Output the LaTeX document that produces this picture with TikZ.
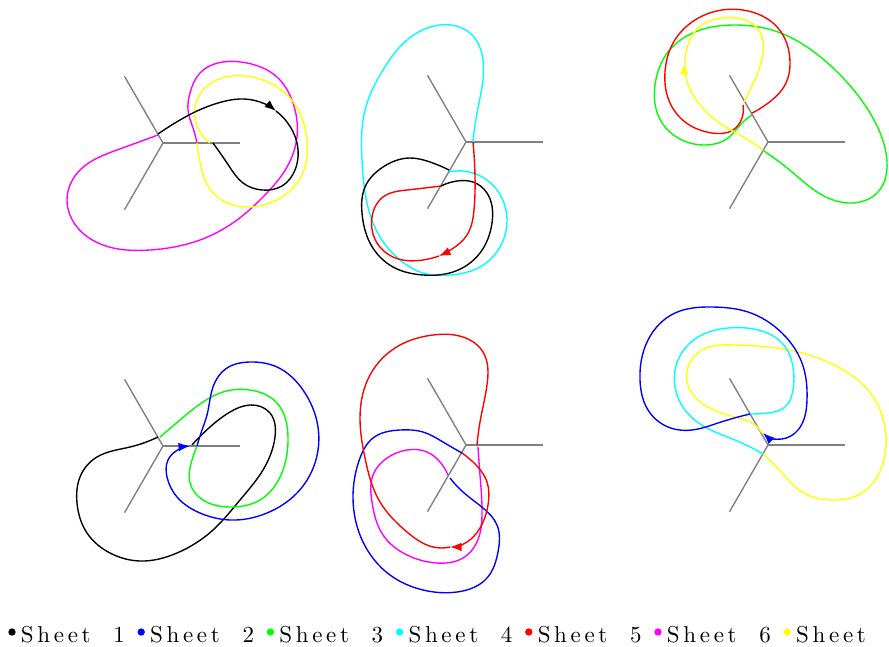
\documentclass[tikz,border=0pt]{standalone}
\usepackage{fontspec}
\usepackage{tikz}
\usetikzlibrary{arrows.meta, hobby}
\newfontfamily\legendfont{lmroman10-regular.otf}[LetterSpace=16]

\definecolor{sheetcyan}{RGB}{0,255,255}
\definecolor{sheetmagenta}{RGB}{255,0,255}
\definecolor{sheetyellow}{RGB}{255,255,0}
\definecolor{sheetgreen}{RGB}{0,255,0}
\definecolor{sheetblue}{RGB}{0,0,255}
\definecolor{sheetred}{RGB}{255,0,0}

\tikzset{
  cut/.style={gray, line width=0.6pt},
  sheet/.style={line width=0.6pt, use Hobby shortcut},
  tip/.style={-{Latex[length=5pt,width=3.8pt]}},
}

\begin{document}
\begin{tikzpicture}[x=0.4348pt, y=-0.4348pt]
    \useasboundingbox (0,0) rectangle (889,646);
    % branch cuts
    \foreach \cx/\cy in {163/143, 466/142, 768/142, 163/446, 466/445, 768/445} {
      \draw[cut] (\cx,\cy) -- ++(77,0);
      \draw[cut] (\cx,\cy) -- ++(-38.5,-66.7);
      \draw[cut] (\cx,\cy) -- ++(-38.5,66.7);
    }
    % top left
    \draw[sheet, sheetmagenta] (158,135) .. (117,150) .. (80,170) .. (67,200) .. (77,227) .. (103,245) .. (150,250) .. (200,240) .. (237,220) .. (263,197) .. (287,167) .. (297,137) .. (293,103) .. (277,77) .. (247,63) .. (223,62) .. (200,73) .. (190,93) .. (188,110) .. (193,128) .. (197,143);
    \draw[sheet, sheetyellow] (197,143) .. (200,162) .. (206,182) .. (220,199) .. (245,207) .. (270,203) .. (293,188) .. (305,167) .. (307,143) .. (302,118) .. (290,98) .. (270,83) .. (245,76) .. (222,78) .. (205,88) .. (196,103) .. (195,118) .. (200,132) .. (210,143);
    \draw[sheet, black, tip] (158,134) .. (180,120) .. (197,111) .. (218,103) .. (240,99) .. (260,102) .. (276,111);
    \draw[sheet, black] (276,111) .. (287,122) .. (297,143) .. (295,170) .. (282,186) .. (262,190) .. (243,183) .. (229,166) .. (213,143);
    % top middle
    \draw[sheet, sheetcyan] (449,172) .. (473,173) .. (497,190) .. (507,220) .. (500,247) .. (480,267) .. (450,275) .. (423,273) .. (400,260) .. (380,237) .. (367,203) .. (362,160) .. (365,110) .. (383,70) .. (407,40) .. (440,25) .. (470,33) .. (483,60) .. (482,87) .. (477,113) .. (473,142);
    \draw[sheet, black] (449,170) .. (430,162) .. (410,158) .. (383,167) .. (365,187) .. (362,213) .. (370,243) .. (393,267) .. (423,275) .. (453,272) .. (480,253) .. (492,223) .. (487,193) .. (473,182) .. (457,181) .. (441,186);
    \draw[sheet, sheetred, tip] (473,142) .. (475,177) .. (474,210) .. (467,235) .. (452,249) .. (439,256);
    \draw[sheet, sheetred] (439,256) .. (423,260) .. (393,257) .. (377,243) .. (372,217) .. (383,197) .. (407,190) .. (441,186);
    % top right
    \draw[sheet, sheetgreen] (752,115) .. (742,123) .. (728,138) .. (705,145) .. (678,138) .. (658,115) .. (655,85) .. (668,52) .. (695,32) .. (735,25) .. (778,32) .. (818,55) .. (852,88) .. (878,128) .. (887,162) .. (878,192) .. (852,203) .. (822,195) .. (792,172) .. (764,151);
    \draw[sheet, sheetred] (743,105) .. (742,118) .. (733,130) .. (712,133) .. (685,122) .. (668,98) .. (665,72) .. (672,45) .. (692,22) .. (722,10) .. (752,12) .. (778,28) .. (790,62) .. (785,85) .. (772,100) .. (752,113);
    \draw[sheet, sheetyellow, tip] (763,150) .. (745,138) .. (718,122) .. (695,98) .. (686,78) .. (685,63);
    \draw[sheet, sheetyellow] (685,63) .. (687,48) .. (698,28) .. (722,18) .. (745,20) .. (760,32) .. (763,52) .. (758,72) .. (750,90) .. (744,102);
    % bottom left
    \draw[sheet, black] (158,437) .. (130,447) .. (97,457) .. (80,477) .. (77,503) .. (87,533) .. (110,553) .. (140,561) .. (177,553) .. (213,530) .. (240,500) .. (263,470) .. (275,437) .. (270,413) .. (250,405) .. (230,412) .. (210,427) .. (192,445);
    \draw[sheet, sheetgreen] (197,446) .. (192,460) .. (190,483) .. (203,500) .. (230,507) .. (260,500) .. (283,470) .. (288,437) .. (277,403) .. (250,390) .. (223,392) .. (203,402) .. (180,420) .. (160,437);
    \draw[sheet, sheetblue, tip] (197,446) .. (202,430) .. (207,415) .. (213,387) .. (227,368) .. (250,362) .. (277,367) .. (303,390) .. (318,427) .. (315,463) .. (297,493) .. (267,513) .. (230,520) .. (200,513) .. (177,497) .. (167,477) .. (168,460) .. (176,451) .. (190,446);
    % bottom middle
    \draw[sheet, sheetmagenta] (478,447) .. (480,475) .. (482,515) .. (477,542) .. (463,558) .. (437,563) .. (407,555) .. (383,535) .. (372,502) .. (373,475) .. (387,458) .. (407,450) .. (427,452) .. (440,462) .. (448,475);
    \draw[sheet, sheetblue] (450,478) .. (463,492) .. (483,508) .. (497,525) .. (498,552) .. (487,578) .. (457,592) .. (423,590) .. (390,575) .. (363,542) .. (353,498) .. (360,458) .. (373,438) .. (400,430) .. (423,432) .. (443,442) .. (462,453);
    \draw[sheet, sheetred, tip] (462,453) .. (473,462) .. (487,482) .. (488,505) .. (480,528) .. (467,542) .. (450,547);
    \draw[sheet, sheetred] (450,547) .. (433,547) .. (407,532) .. (380,502) .. (365,458) .. (360,418) .. (370,375) .. (400,345) .. (433,335) .. (463,337) .. (483,352) .. (487,385) .. (480,422) .. (477,445);
    % bottom right
    \draw[sheet, sheetyellow] (763,454) .. (782,473) .. (802,492) .. (832,500) .. (862,493) .. (883,463) .. (885,427) .. (868,390) .. (838,367) .. (802,353) .. (768,347) .. (735,345) .. (702,350) .. (688,367) .. (690,390) .. (708,407) .. (735,417) .. (755,425) .. (762,433);
    \draw[sheet, sheetcyan] (750,414) .. (768,413) .. (785,407) .. (793,390) .. (793,367) .. (782,343) .. (758,330) .. (728,328) .. (698,337) .. (678,360) .. (675,387) .. (685,410) .. (705,427) .. (735,440) .. (763,454);
    \draw[sheet, sheetblue, tip] (750,414) .. (718,423) .. (692,430) .. (668,427) .. (648,410) .. (640,380) .. (648,340) .. (675,313) .. (712,307) .. (748,312) .. (782,333) .. (802,363) .. (807,400) .. (798,430) .. (782,439) .. (763,433);
    % legend
    \foreach \c [count=\k] in {black, sheetblue, sheetgreen, sheetcyan, sheetred, sheetmagenta, sheetyellow} {
      \node[circle, fill=\c, inner sep=0pt, minimum size=3.2pt] (dot\k) at ({12+129.2*(\k-1)},632) {};
      \node[anchor=base west, inner sep=0pt, font=\legendfont] (sheet\k) at ({20.5+129.2*(\k-1)},642) {Sheet~~\k};
    }
  \end{tikzpicture}
\end{document}
